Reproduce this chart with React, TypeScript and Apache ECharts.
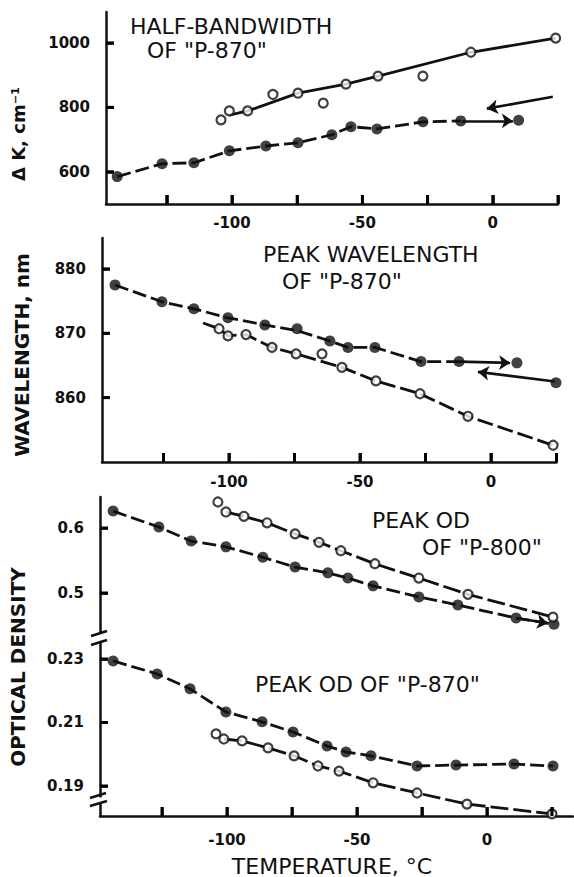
import React, { useEffect, useRef } from "react";
import * as echarts from "echarts";

// ---------- shared axis ticks ----------
const xTickValues = [-125, -100, -75, -50, -25, 0, 25];
const xLabelValues = [-100, -50, 0];

// ---------- panel 1: half-bandwidth of "P-870" (cm^-1) ----------
const hbFilledT = [-144, -126.8, -114.6, -101, -87, -74.7, -61.7, -54.4, -44.4, -26.8, -12.3, 9.9, 25.3];
const hbFilledV = [585, 625, 628, 665, 680, 690, 715, 740, 733, 755, 758, 760, 842];
const hbOpenT = [-104.2, -101, -94, -84.3, -74.7, -65, -56.3, -44, -26.8, -8.4, 24.1];
const hbOpenV = [761, 789, 789, 840, 844, 813, 872, 897, 897, 971, 1015];
const hbFilledLineT = [-144, -126.8, -114.6, -101, -87, -74.7, -61.7, -54.4, -44.4, -26.8, -12.3];
const hbFilledLineV = [585, 625, 628, 665, 680, 690, 715, 740, 733, 755, 758];
const hbOpenLineT = [-101, -94, -74.7, -56.3, -44, -8.4, 24.1];
const hbOpenLineV = [776, 789, 844, 872, 897, 971, 1015];
const hbArrows = [
  [[-11.9, 758], [7.7, 758]],
  [[23, 833], [-2.3, 796]],
];
const hbYTicks = [600, 800, 1000];

// ---------- panel 2: peak wavelength of "P-870" (nm) ----------
const wlFilledT = [-143.5, -125.6, -113.4, -100.4, -86.3, -74, -61.5, -54.6, -44.3, -26.7, -12.2, 9.9, 24.8];
const wlFilledV = [877.5, 874.9, 873.8, 872.4, 871.3, 870.7, 868.8, 867.8, 867.8, 865.6, 865.6, 865.4, 862.3];
const wlOpenT = [-103.8, -100.4, -93.5, -83.6, -74.4, -64.5, -56.9, -43.9, -27.1, -8.8, 23.7];
const wlOpenV = [870.7, 869.6, 869.8, 867.8, 866.8, 866.8, 864.7, 862.6, 860.6, 857.1, 852.6];
const wlFilledLineT = [-143.5, -125.6, -113.4, -100.4, -86.3, -74, -61.5, -54.6, -44.3, -26.7, -12.2];
const wlFilledLineV = [877.5, 874.9, 873.8, 872.4, 871.3, 870.4, 868.8, 867.8, 867.8, 865.6, 865.6];
const wlOpenLineT = [-109.9, -103.8, -100.4, -93.5, -83.6, -74.4, -56.9, -43.9, -27.1, -8.8, 23.7];
const wlOpenLineV = [871.6, 870.7, 869.6, 869.8, 867.8, 866.8, 864.7, 862.6, 860.6, 857.1, 852.6];
const wlArrows = [
  [[-12.2, 865.6], [7.3, 865.4]],
  [[24.4, 862.5], [-5, 864.0]],
];
const wlYTicks = [860, 870, 880];

// ---------- panel 3a: peak OD of "P-800" ----------
const p8FilledT = [-143.8, -126.2, -113.8, -100.4, -86.2, -73.8, -61.2, -53.5, -43.8, -26.2, -11.2, 11.2, 25.8];
const p8FilledV = [0.626, 0.6015, 0.58, 0.571, 0.555, 0.54, 0.531, 0.523, 0.511, 0.494, 0.4815, 0.4615, 0.452];
const p8OpenT = [-103.5, -100.4, -93.5, -84.6, -73.8, -64.6, -56.2, -43.1, -26.2, -7.3, 25.4];
const p8OpenV = [0.64, 0.6246, 0.618, 0.608, 0.591, 0.578, 0.565, 0.545, 0.523, 0.498, 0.463];
const p8Arrows = [[[11.2, 0.4615], [23.5, 0.4535]]];
const p8YTicks = [0.5, 0.6];

// ---------- panel 3b: peak OD of "P-870" ----------
const p87FilledT = [-143.8, -126.9, -114.2, -100.4, -86.5, -74.6, -61.5, -54.2, -44.6, -26.9, -11.9, 10.4, 25.4];
const p87FilledV = [0.2294, 0.2253, 0.2206, 0.2133, 0.2102, 0.207, 0.2026, 0.2007, 0.1995, 0.1963, 0.1966, 0.1969, 0.1963];
const p87OpenT = [-104.2, -101.2, -94.2, -84.2, -74.2, -65, -56.9, -43.8, -26.9, -7.7, 25];
const p87OpenV = [0.2064, 0.2048, 0.2042, 0.202, 0.1995, 0.1963, 0.1947, 0.191, 0.1878, 0.1843, 0.1812];
const p87YTicks = [0.19, 0.21, 0.23];

const FONT = "DejaVu Sans";
const INK = "#111";
const TICK = "#000";

const zip = (t: number[], v: number[]) => t.map((x, i) => [x, v[i]]);

const grids = [
  { left: 106, top: 12, width: 452, height: 192 },
  { left: 102, top: 238, width: 454.5, height: 224 },
  { left: 100, top: 497, width: 473, height: 136 },
  { left: 100, top: 642, width: 473, height: 174 },
];
const xRanges = [
  [-148.3, 25],
  [-148.47, 25],
  [-148.85, 33.1],
  [-148.85, 33.1],
];
const yRanges = [
  [500, 1096],
  [850, 884.8],
  [0.4385, 0.6477],
  [0.18055, 0.23535],
];
const yTickSets = [hbYTicks, wlYTicks, p8YTicks, p87YTicks];
const xLabelMargins = [11, 12, 16, 16];

// inward tick marks as marker line segments, in the axes' own data units
function tickSegments(g: number) {
  const out: any[] = [];
  const [x0, x1] = xRanges[g];
  const [y0, y1] = yRanges[g];
  const ly = ((y1 - y0) * 9) / grids[g].height;
  const lx = ((x1 - x0) * 8) / grids[g].width;
  if (g !== 2) {
    xTickValues
      .filter((v) => v >= x0 && v <= x1)
      .forEach((v) => out.push([{ coord: [v, y0], symbol: "none" }, { coord: [v, y0 + ly], symbol: "none" }]));
  }
  yTickSets[g].forEach((v) => out.push([{ coord: [x0, v], symbol: "none" }, { coord: [x0 + lx, v], symbol: "none" }]));
  return out;
}

function lineSeries(g: number, t: number[], v: number[], dash: any, arrows?: number[][][], withTicks = false) {
  const s: any = {
    type: "line",
    xAxisIndex: g,
    yAxisIndex: g,
    data: zip(t, v),
    symbol: "none",
    showSymbol: false,
    silent: true,
    z: 2,
    lineStyle: { color: INK, width: 2.8, type: dash },
  };
  const md: any[] = [];
  if (arrows) arrows.forEach((a) => md.push([{ coord: a[0] }, { coord: a[1] }]));
  if (withTicks) tickSegments(g).forEach((d) => md.push(d));
  if (md.length) {
    s.markLine = {
      silent: true,
      symbol: ["none", "arrow"],
      symbolSize: 11,
      label: { show: false },
      lineStyle: { color: INK, width: 2.6, type: "solid" },
      data: md,
    };
  }
  return s;
}

function pointSeries(g: number, t: number[], v: number[], filled: boolean) {
  return {
    type: "scatter",
    xAxisIndex: g,
    yAxisIndex: g,
    data: zip(t, v),
    symbol: "circle",
    symbolSize: filled ? 11 : 9,
    silent: true,
    z: filled ? 4 : 5,
    itemStyle: filled
      ? { color: INK }
      : { color: "#fff", borderColor: INK, borderWidth: 2.2 },
  };
}

function xTickSeries(g: number) {
  return {
    type: "scatter",
    xAxisIndex: g,
    yAxisIndex: g,
    silent: true,
    clip: false,
    z: 10,
    symbol: "rect",
    symbolSize: [3, 9],
    symbolOffset: [0, -4.5],
    itemStyle: { color: TICK, opacity: 1 },
    data: xTickValues
      .filter((v) => v >= xRanges[g][0] && v <= xRanges[g][1])
      .map((v) => [v, yRanges[g][0]]),
  };
}
function yTickSeries(g: number) {
  return {
    type: "scatter",
    xAxisIndex: g,
    yAxisIndex: g,
    silent: true,
    clip: false,
    z: 10,
    symbol: "rect",
    symbolSize: [8, 3],
    symbolOffset: [4, 0],
    itemStyle: { color: TICK, opacity: 1 },
    data: yTickSets[g].map((v) => [xRanges[g][0], v]),
  };
}

function title(text: string, x: number, y: number, size = 22) {
  return {
    type: "text",
    x,
    y,
    silent: true,
    style: { text, fill: INK, fontSize: size, fontFamily: FONT, align: "left", verticalAlign: "middle" },
  };
}
function vName(text: string, x: number, y: number, size: number) {
  return {
    type: "text",
    x,
    y,
    rotation: Math.PI / 2,
    silent: true,
    style: { text, fill: INK, fontSize: size, fontWeight: "bold", fontFamily: FONT, align: "center", verticalAlign: "middle" },
  };
}
function mark(x1: number, y1: number, x2: number, y2: number) {
  return { type: "line", silent: true, shape: { x1, y1, x2, y2 }, style: { stroke: INK, lineWidth: 2.5 } };
}

export default function App() {
  const ref = useRef<HTMLDivElement>(null);
  useEffect(() => {
    if (!ref.current) return;
    const chart = echarts.init(ref.current, undefined, { renderer: "svg" });
    const axisLine = { show: true, onZero: false, lineStyle: { color: INK, width: 2.5 } };
    const labelStyle = { color: INK, fontSize: 15, fontWeight: "bold", fontFamily: FONT };
    const option: any = {
      animation: false,
      backgroundColor: "#fff",
      grid: grids,
      xAxis: grids.map((_, i) => ({
        type: "value",
        gridIndex: i,
        min: xRanges[i][0],
        max: xRanges[i][1],
        show: i !== 2,
        axisLine,
        axisTick: { show: false },
        axisLabel: {
          show: true,
          customValues: xLabelValues,
          margin: xLabelMargins[i],
          formatter: (v: number) => String(v),
          ...labelStyle,
        },
        splitLine: { show: false },
      })),
      yAxis: grids.map((_, i) => ({
        type: "value",
        gridIndex: i,
        min: yRanges[i][0],
        max: yRanges[i][1],
        axisLine,
        axisTick: { show: false },
        axisLabel: {
          show: true,
          customValues: yTickSets[i],
          margin: 16,
          formatter: (v: number) => String(v),
          ...labelStyle,
        },
        splitLine: { show: false },
      })),
      series: [
        lineSeries(0, hbFilledLineT, hbFilledLineV, [14, 5], hbArrows, true),
        lineSeries(0, hbOpenLineT, hbOpenLineV, "solid"),
        pointSeries(0, hbFilledT, hbFilledV, true),
        pointSeries(0, hbOpenT, hbOpenV, false),

        lineSeries(1, wlFilledLineT, wlFilledLineV, [14, 5], wlArrows, true),
        lineSeries(1, wlOpenLineT, wlOpenLineV, [16, 5]),
        pointSeries(1, wlFilledT, wlFilledV, true),
        pointSeries(1, wlOpenT, wlOpenV, false),

        lineSeries(2, p8FilledT, p8FilledV, [14, 5], p8Arrows, true),
        lineSeries(2, p8OpenT.slice(1), p8OpenV.slice(1), [18, 5]),
        pointSeries(2, p8FilledT, p8FilledV, true),
        pointSeries(2, p8OpenT, p8OpenV, false),

        lineSeries(3, p87FilledT, p87FilledV, [14, 5], undefined, true),
        lineSeries(3, p87OpenT.slice(1), p87OpenV.slice(1), [18, 5]),
        pointSeries(3, p87FilledT, p87FilledV, true),
        pointSeries(3, p87OpenT, p87OpenV, false),

        xTickSeries(0),
        xTickSeries(1),
        xTickSeries(3),
        yTickSeries(0),
        yTickSeries(1),
        yTickSeries(2),
        yTickSeries(3),
      ],
      graphic: [
        title("HALF-BANDWIDTH", 130, 26),
        title('OF "P-870"', 147, 50),
        title("PEAK WAVELENGTH", 263, 254),
        title('OF "P-870"', 282, 281),
        title("PEAK OD", 372, 520),
        title('OF "P-800"', 422, 547),
        title('PEAK OD OF "P-870"', 255, 684),
        {
          type: "text",
          x: 332,
          y: 866,
          silent: true,
          style: { text: "TEMPERATURE, °C", fill: INK, fontSize: 22, fontFamily: FONT, align: "center", verticalAlign: "middle" },
        },
        vName("Δ K, cm⁻¹", 18, 134, 18),
        vName("WAVELENGTH, nm", 22, 355, 20),
        vName("OPTICAL DENSITY", 18, 667, 20),
        // axis break marks
        mark(91, 636, 107, 631),
        mark(91, 645, 107, 640),
        { type: "rect", silent: true, shape: { x: 96, y: 797.5, width: 8, height: 4.5 }, style: { fill: "#fff" }, z: 100 },
        { ...mark(90, 798, 106, 793), z: 101 },
        { ...mark(90, 806, 107, 801), z: 101 },
      ],
    };
    chart.setOption(option);
    return () => chart.dispose();
  }, []);
  return (
    <div
      ref={ref}
      style={{ position: "absolute", left: 0, top: 0, width: 574, height: 877, background: "#fff" }}
    />
  );
}
